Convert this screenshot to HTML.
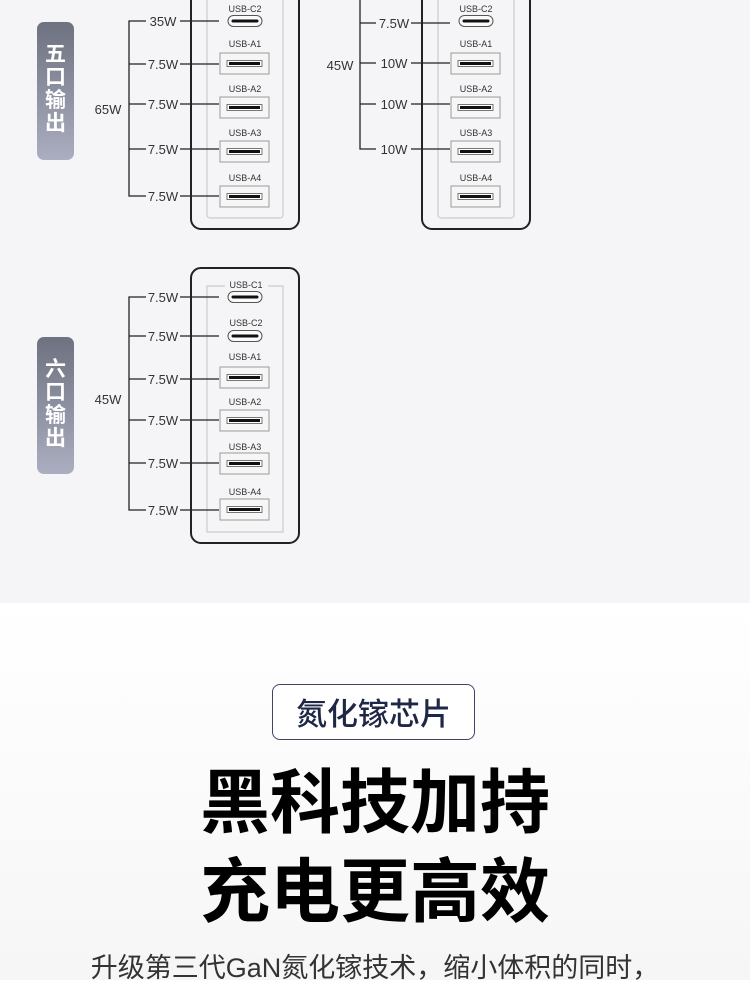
<!DOCTYPE html>
<html><head><meta charset="utf-8"><style>
html,body{margin:0;padding:0;width:750px;height:980px;overflow:hidden;background:#fff}
.top{position:absolute;left:0;top:0;width:750px;height:603px;background:#f5f5f7}
.bot{position:absolute;left:0;top:603px;width:750px;height:377px;background:linear-gradient(#ffffff,#f6f6f7)}
.badge{position:absolute;left:272px;top:684px;width:203px;height:56px;border:1.5px solid #3d4466;border-radius:8px;box-sizing:border-box;text-align:center;font:500 31px/53px "Noto Sans CJK SC",sans-serif;color:#1f2746;background:#fff}
.h{position:absolute;left:0;width:750px;text-align:center;font:bold 70px/1 "Noto Sans CJK SC",sans-serif;color:#000;letter-spacing:0px}
.p{position:absolute;left:0;width:750px;text-align:center;font:27px/1 "Liberation Sans","Noto Sans CJK SC",sans-serif;color:#333;top:955px}
svg{position:absolute;left:0;top:0}
</style></head><body>
<div class="top"></div><div class="bot"></div>
<svg width="750" height="603" viewBox="0 0 750 603" font-family="Liberation Sans, sans-serif">
<defs>
<linearGradient id="pg" x1="0" y1="0" x2="0" y2="1"><stop offset="0" stop-color="#6e717f"/><stop offset="1" stop-color="#aaaec0"/></linearGradient>
<g id="cp"><rect x="-17" y="-5.5" width="34" height="11" rx="5.5" fill="#fafafa" stroke="#555" stroke-width="1"/><line x1="-12" y1="0" x2="12" y2="0" stroke="#111" stroke-width="3" stroke-linecap="round"/></g>
<g id="ap"><rect x="0" y="0" width="49" height="21" fill="#f6f6f6" stroke="#9a9a9a" stroke-width="1"/><rect x="7" y="7.5" width="35" height="6" fill="#fff" stroke="#555" stroke-width="0.8"/><line x1="9" y1="10.5" x2="40" y2="10.5" stroke="#111" stroke-width="3"/></g>
</defs>
<g fill="none" stroke="#222" stroke-width="1.3">
<rect x="191" y="-20" width="108" height="249" rx="10" stroke-width="2"/>
<rect x="207" y="-20" width="76" height="238" rx="3" stroke="#ccc" stroke-width="1.2"/>
<path d="M146 21H129V196H146M129 64H146M129 104H146M129 149H146M180 21H219M180 64H219M180 104H219M180 149H219M180 196H219"/>
<rect x="422" y="-20" width="108" height="249" rx="10" stroke-width="2"/>
<rect x="438" y="-20" width="76" height="238" rx="3" stroke="#ccc" stroke-width="1.2"/>
<path d="M360 -5V149H376M360 23H376M360 63H376M360 104H376M411 23H450M411 63H450M411 104H450M411 149H450"/>
<rect x="191" y="268" width="108" height="275" rx="10" stroke-width="2"/>
<path d="M225 286H207V532H283V286H268" stroke="#ccc" stroke-width="1.2"/>
<path d="M146 297H129V510H146M129 336H146M129 379H146M129 420H146M129 463H146M180 297H219M180 336H219M180 379H219M180 420H219M180 463H219M180 510H219"/>
</g>
<rect x="37" y="22" width="37" height="138" rx="7" fill="url(#pg)"/>
<rect x="37" y="337" width="37" height="137" rx="7" fill="url(#pg)"/>
<g fill="#fff" font-family="Noto Sans CJK SC, sans-serif" font-weight="bold" font-size="21" text-anchor="middle">
<text x="55.5" y="61">五</text><text x="55.5" y="84">口</text><text x="55.5" y="107">输</text><text x="55.5" y="130">出</text>
<text x="55.5" y="376">六</text><text x="55.5" y="399">口</text><text x="55.5" y="422">输</text><text x="55.5" y="445">出</text>
</g>
<g fill="#333" font-size="13" text-anchor="middle">
<text x="108" y="114">65W</text><text x="340" y="70">45W</text><text x="108" y="404">45W</text>
<text x="163" y="26">35W</text><text x="163" y="69">7.5W</text><text x="163" y="109">7.5W</text><text x="163" y="154">7.5W</text><text x="163" y="201">7.5W</text>
<text x="394" y="28">7.5W</text><text x="394" y="68">10W</text><text x="394" y="109">10W</text><text x="394" y="154">10W</text>
<text x="163" y="302">7.5W</text><text x="163" y="341">7.5W</text><text x="163" y="384">7.5W</text><text x="163" y="425">7.5W</text><text x="163" y="468">7.5W</text><text x="163" y="515">7.5W</text>
</g>
<g fill="#333" font-size="9" text-anchor="middle">
<text x="245" y="12">USB-C2</text><text x="245" y="47">USB-A1</text><text x="245" y="92">USB-A2</text><text x="245" y="136">USB-A3</text><text x="245" y="181">USB-A4</text>
<text x="476" y="12">USB-C2</text><text x="476" y="47">USB-A1</text><text x="476" y="92">USB-A2</text><text x="476" y="136">USB-A3</text><text x="476" y="181">USB-A4</text>
<text x="246" y="288">USB-C1</text><text x="246" y="326">USB-C2</text><text x="245" y="360">USB-A1</text><text x="245" y="405">USB-A2</text><text x="245" y="450">USB-A3</text><text x="245" y="495">USB-A4</text>
</g>
<use href="#cp" x="245" y="21"/><use href="#ap" x="220" y="53"/><use href="#ap" x="220" y="97"/><use href="#ap" x="220" y="141"/><use href="#ap" x="220" y="186"/>
<use href="#cp" x="476" y="21"/><use href="#ap" x="451" y="53"/><use href="#ap" x="451" y="97"/><use href="#ap" x="451" y="141"/><use href="#ap" x="451" y="186"/>
<use href="#cp" x="245" y="297"/><use href="#cp" x="245" y="336"/><use href="#ap" x="220" y="367"/><use href="#ap" x="220" y="410"/><use href="#ap" x="220" y="453"/><use href="#ap" x="220" y="499"/>
</svg>
<div class="badge">氮化镓芯片</div>
<div class="h" style="top:763px">黑科技加持</div>
<div class="h" style="top:852px">充电更高效</div>
<div class="p">升级第三代GaN氮化镓技术，缩小体积的同时，</div>
</body></html>
